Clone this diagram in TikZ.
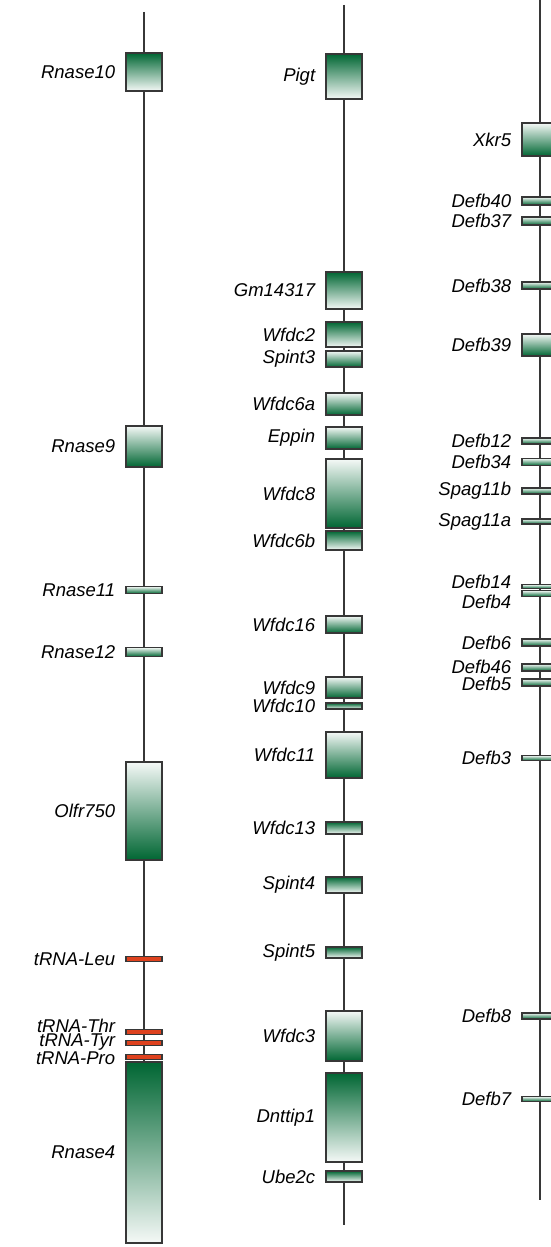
\documentclass[tikz,border=0pt]{standalone}
\usepackage{fontspec}
\setmainfont{Liberation Sans}
\usepackage{tikz}
\usetikzlibrary{positioning}

\definecolor{geneGreen}{RGB}{0,102,51}
\definecolor{trnaRed}{RGB}{222,66,30}
\definecolor{lineGray}{RGB}{55,55,55}

\tikzset{
	gname/.style={font=\itshape\fontsize{18.5}{20}\selectfont, inner sep=0pt},
	geneBox/.style={
		draw=lineGray,
		line width=1.3pt,
		rectangle,
		inner sep=0pt,
		minimum width=36pt
	},
	geneDown/.style={geneBox, top color=geneGreen, bottom color=geneGreen!4},
	geneUp/.style={geneBox, top color=geneGreen!4, bottom color=geneGreen},
	trna/.style={geneBox, fill=trnaRed, minimum height=5pt},
	axis/.style={draw=lineGray, line width=1.2pt}
}

\begin{document}
\begin{tikzpicture}[x=1pt, y=-1pt, label distance=10pt]

	\useasboundingbox[fill=white] (0,0) rectangle (551,1247);

	% chromosome axes
	\coordinate (leftTop) at (144,12);
	\coordinate (leftBot) at (144,1062);
	\coordinate (midTop) at (344,5);
	\coordinate (midBot) at (344,1225);
	\coordinate (rightTop) at (540,0);
	\coordinate (rightBot) at (540,1200);

	\draw[axis] (leftTop) -- (leftBot);
	\draw[axis] (midTop) -- (midBot);
	\draw[axis] (rightTop) -- (rightBot);

	% left column
	\node[geneDown, minimum height=38pt, label={[gname]left:Rnase10}] (rnase10) at (144,72) {};
	\node[geneUp, minimum height=41pt, label={[gname]left:Rnase9}] (rnase9) at (144,446.5) {};
	\node[geneUp, minimum height=7pt, label={[gname]left:Rnase11}] (rnase11) at (144,590) {};
	\node[geneUp, minimum height=9pt, label={[gname]left:Rnase12}] (rnase12) at (144,652) {};
	\node[geneUp, minimum height=98pt, label={[gname]left:Olfr750}] (olfr750) at (144,811) {};
	\node[trna, label={[gname]left:tRNA-Leu}] (trnaLeu) at (144,959) {};
	\node[trna, label={[gname, yshift=6pt]left:tRNA-Thr}] (trnaThr) at (144,1032) {};
	\node[trna, label={[gname, yshift=0.5pt]left:tRNA-Tyr}] (trnaTyr) at (144,1043) {};
	\node[trna, label={[gname, yshift=-1.5pt]left:tRNA-Pro}] (trnaPro) at (144,1057) {};
	\node[geneDown, minimum height=181pt, label={[gname]left:Rnase4}] (rnase4) at (144,1152.5) {};

	% middle column
	\node[geneDown, minimum height=45pt, label={[gname]left:Pigt}] (pigt) at (344,76.5) {};
	\node[geneDown, minimum height=37pt, label={[gname]left:Gm14317}] (gm14317) at (344,290.5) {};
	\node[geneDown, minimum height=25pt, label={[gname]left:Wfdc2}] (wfdc2) at (344,334.5) {};
	\node[geneUp, minimum height=16pt, label={[gname]left:Spint3}] (spint3) at (344,359) {};
	\node[geneUp, minimum height=22pt, label={[gname]left:Wfdc6a}] (wfdc6a) at (344,404) {};
	\node[geneUp, minimum height=22pt, label={[gname]left:Eppin}] (eppin) at (344,438) {};
	\node[geneUp, minimum height=69pt, label={[gname]left:Wfdc8}] (wfdc8) at (344,493.5) {};
	\node[geneDown, minimum height=19pt, label={[gname]left:Wfdc6b}] (wfdc6b) at (344,540.5) {};
	\node[geneUp, minimum height=17pt, label={[gname]left:Wfdc16}] (wfdc16) at (344,624.5) {};
	\node[geneUp, minimum height=21pt, label={[gname]left:Wfdc9}] (wfdc9) at (344,687.5) {};
	\node[geneDown, minimum height=6pt, label={[gname]left:Wfdc10}] (wfdc10) at (344,706) {};
	\node[geneUp, minimum height=46pt, label={[gname]left:Wfdc11}] (wfdc11) at (344,755) {};
	\node[geneDown, minimum height=12pt, label={[gname]left:Wfdc13}] (wfdc13) at (344,828) {};
	\node[geneDown, minimum height=16pt, label={[gname]left:Spint4}] (spint4) at (344,885) {};
	\node[geneDown, minimum height=11pt, label={[gname]left:Spint5}] (spint5) at (344,952.5) {};
	\node[geneUp, minimum height=50pt, label={[gname]left:Wfdc3}] (wfdc3) at (344,1036) {};
	\node[geneDown, minimum height=89pt, label={[gname]left:Dnttip1}] (dnttip1) at (344,1117.5) {};
	\node[geneDown, minimum height=11pt, label={[gname]left:Ube2c}] (ube2c) at (344,1176.5) {};

	% right column
	\node[geneUp, minimum height=33pt, label={[gname]left:Xkr5}] (xkr5) at (540,139.5) {};
	\node[geneUp, minimum height=8pt, label={[gname]left:Defb40}] (defb40) at (540,201) {};
	\node[geneUp, minimum height=8pt, label={[gname]left:Defb37}] (defb37) at (540,221) {};
	\node[geneUp, minimum height=7pt, label={[gname]left:Defb38}] (defb38) at (540,285.5) {};
	\node[geneUp, minimum height=22pt, label={[gname]left:Defb39}] (defb39) at (540,345) {};
	\node[geneUp, minimum height=6pt, label={[gname]left:Defb12}] (defb12) at (540,441) {};
	\node[geneUp, minimum height=7pt, label={[gname]left:Defb34}] (defb34) at (540,462) {};
	\node[geneUp, minimum height=6pt, label={[gname]left:Spag11b}] (spag11b) at (540,491) {};
	\node[geneUp, minimum height=5pt, label={[gname]left:Spag11a}] (spag11a) at (540,521.5) {};
	\node[geneUp, minimum height=4pt, label={[gname, yshift=5pt]left:Defb14}] (defb14) at (540,586.5) {};
	\node[geneUp, minimum height=6pt, label={[gname, yshift=-8pt]left:Defb4}] (defb4) at (540,593.5) {};
	\node[geneUp, minimum height=7pt, label={[gname]left:Defb6}] (defb6) at (540,642.5) {};
	\node[geneUp, minimum height=7pt, label={[gname, yshift=1pt]left:Defb46}] (defb46) at (540,667.5) {};
	\node[geneUp, minimum height=7pt, label={[gname, yshift=-1pt]left:Defb5}] (defb5) at (540,682.5) {};
	\node[geneUp, minimum height=5pt, label={[gname]left:Defb3}] (defb3) at (540,758) {};
	\node[geneUp, minimum height=6pt, label={[gname]left:Defb8}] (defb8) at (540,1016) {};
	\node[geneUp, minimum height=5pt, label={[gname]left:Defb7}] (defb7) at (540,1099) {};

\end{tikzpicture}
\end{document}
